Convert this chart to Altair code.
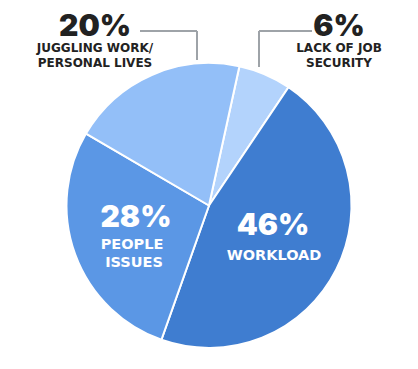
import altair as alt
import pandas as pd

categories = ["Lack of job security", "Workload", "People issues", "Juggling work/personal lives"]
values = [6, 46, 28, 20]
colors = ["#b3d3fc", "#3f7dd0", "#5b97e5", "#93bff8"]
orders = [0, 1, 2, 3]

df = pd.DataFrame({"category": categories, "value": values, "order": orders})

start = 0.215
two_pi = 6.283185307

pie = alt.Chart(df).mark_arc(outerRadius=142.5, stroke="white", strokeWidth=2).encode(
    theta=alt.Theta("value:Q", stack=True, scale=alt.Scale(range=[start, start + two_pi])),
    color=alt.Color("category:N", scale=alt.Scale(domain=categories, range=colors), legend=None),
    order=alt.Order("order:Q"),
    x=alt.value(201),
    y=alt.value(197.5),
)

big_labels = [
    {"t": "46%", "x": 265, "y": 218, "c": "white"},
    {"t": "28%", "x": 128, "y": 210, "c": "white"},
    {"t": "20%", "x": 87, "y": 19, "c": "#222222"},
    {"t": "6%", "x": 331, "y": 19, "c": "#222222"},
]
small_labels = [
    {"t": "WORKLOAD", "x": 266, "y": 248, "c": "white"},
    {"t": "PEOPLE", "x": 124, "y": 237, "c": "white"},
    {"t": "ISSUES", "x": 126, "y": 255, "c": "white"},
    {"t": "JUGGLING WORK/", "x": 87, "y": 40, "c": "#222222"},
    {"t": "PERSONAL LIVES", "x": 87, "y": 55, "c": "#222222"},
    {"t": "LACK OF JOB", "x": 331, "y": 40, "c": "#222222"},
    {"t": "SECURITY", "x": 331, "y": 55, "c": "#222222"},
]

layers = [pie]
for lab in big_labels:
    layers.append(
        alt.Chart(pd.DataFrame({"t": [lab["t"]]})).mark_text(
            font="Inter", fontWeight=900, fontSize=30, color=lab["c"],
            align="center", baseline="middle", x=lab["x"], y=lab["y"]
        ).encode(text="t:N")
    )
for lab in small_labels:
    size = 14.5 if lab["c"] == "white" else 12
    layers.append(
        alt.Chart(pd.DataFrame({"t": [lab["t"]]})).mark_text(
            font="DejaVu Sans", fontWeight="bold", fontSize=size, color=lab["c"],
            align="center", baseline="middle", x=lab["x"], y=lab["y"]
        ).encode(text="t:N")
    )

segments = [
    (132, 23, 189, 23),
    (189, 23, 189, 52),
    (251, 23, 304, 23),
    (251, 23, 251, 59),
]
for (x1, y1, x2, y2) in segments:
    layers.append(
        alt.Chart(pd.DataFrame({"a": [0]})).mark_rule(color="#9ea3a8", strokeWidth=2).encode(
            x=alt.value(x1), y=alt.value(y1), x2=alt.value(x2), y2=alt.value(y2)
        )
    )

chart = alt.layer(*layers).properties(
    width=402, height=353, padding=0, background="white"
).configure_view(stroke=None)

chart.save("out.html", embed_options={"renderer": "svg", "actions": False})
